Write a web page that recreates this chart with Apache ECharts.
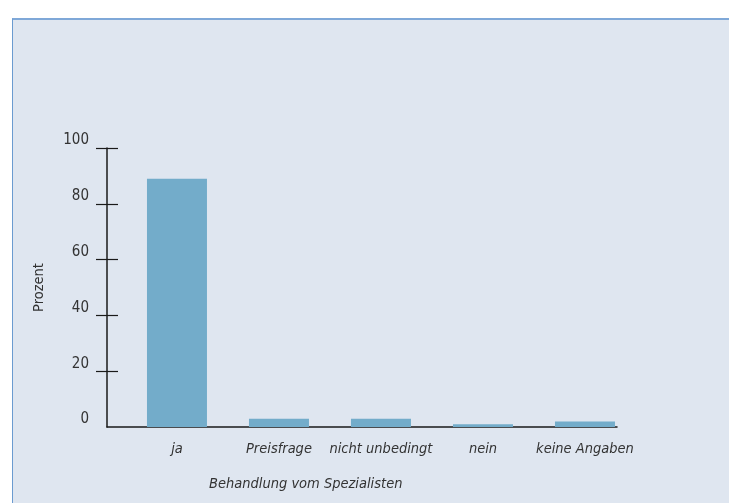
<!DOCTYPE html>
<html>
<head>
<meta charset="utf-8">
<script src="https://cdn.jsdelivr.net/npm/echarts@6/dist/echarts.min.js"></script>
<style>
    html, body { margin: 0; padding: 0; background: #ffffff; }
    #panel {
        position: absolute; left: 12px; top: 18px; right: 0; bottom: 0;
        background: #dfe6f0;
        border-left: 1px solid #6b9bd0;
        border-top: 2px solid #7fa8d8;
    }
    #chart { position: absolute; left: 0; top: 0; width: 729px; height: 503px; }
</style>
</head>
<body>
<div id="panel"></div>
<div id="chart"></div>
<script>
// Kategorien und Werte (Prozent)
const categories = ['ja', 'Preisfrage', 'nicht unbedingt', 'nein', 'keine Angaben'];
const values = [89, 3, 3, 1, 2];
const yTicks = [0, 20, 40, 60, 80, 100];

const font = '"Liberation Sans Narrow", "DejaVu Sans Condensed", sans-serif';

const myChart = echarts.init(document.getElementById('chart'));
const option = {
    animation: false,
    title: {
        text: 'Behandlung vom Spezialisten',
        left: 204,
        top: 472,
        textStyle: {
            fontFamily: font,
            fontStyle: 'italic',
            fontWeight: 'normal',
            fontSize: 14.5,
            color: '#333333'
        }
    },
    grid: {
        left: 107,
        top: 148,
        width: 510,
        height: 279
    },
    xAxis: {
        type: 'value',
        // Kategorie i liegt bei Wert i, Achse beginnt links vor der ersten Säule
        min: -0.686,
        max: 4.314,
        splitLine: { show: false },
        axisLine: { show: true, lineStyle: { color: '#1a1a1a', width: 1.5 } },
        axisTick: { show: false },
        axisLabel: {
            customValues: [0, 1, 2, 3, 4],
            formatter: function (v) { return categories[Math.round(v)]; },
            margin: 15,
            fontFamily: font,
            fontStyle: 'italic',
            fontSize: 14.5,
            color: '#333333'
        }
    },
    yAxis: [
        {
            type: 'value',
            min: 0,
            max: 100,
            interval: 20,
            name: 'Prozent',
            nameLocation: 'middle',
            nameGap: 60,
            nameTextStyle: {
                fontFamily: font,
                fontSize: 14.5,
                color: '#333333'
            },
            splitLine: { show: false },
            axisLine: { show: true, onZero: false, lineStyle: { color: '#1a1a1a', width: 1.5 } },
            axisTick: {
                show: true,
                length: 11,
                customValues: [20, 40, 60, 80, 100],
                lineStyle: { color: '#1a1a1a', width: 1.2 }
            },
            axisLabel: {
                customValues: yTicks,
                margin: 18,
                verticalAlign: 'bottom',
                fontFamily: font,
                fontSize: 15,
                color: '#333333'
            }
        },
        {
            // zweite Achse nur für die Striche nach innen
            type: 'value',
            position: 'left',
            min: 0,
            max: 100,
            interval: 20,
            splitLine: { show: false },
            axisLine: { show: false, onZero: false },
            axisLabel: { show: false },
            axisTick: {
                show: true,
                inside: true,
                length: 11,
                customValues: [20, 40, 60, 80, 100],
                lineStyle: { color: '#1a1a1a', width: 1.2 }
            }
        }
    ],
    series: [
        {
            type: 'bar',
            barWidth: 60,
            data: values.map(function (v, i) { return [i, v]; }),
            itemStyle: { color: '#73acca' }
        }
    ]
};
myChart.setOption(option);
window.addEventListener('resize', () => {
    myChart.resize();
});
</script>
</body>
</html>
